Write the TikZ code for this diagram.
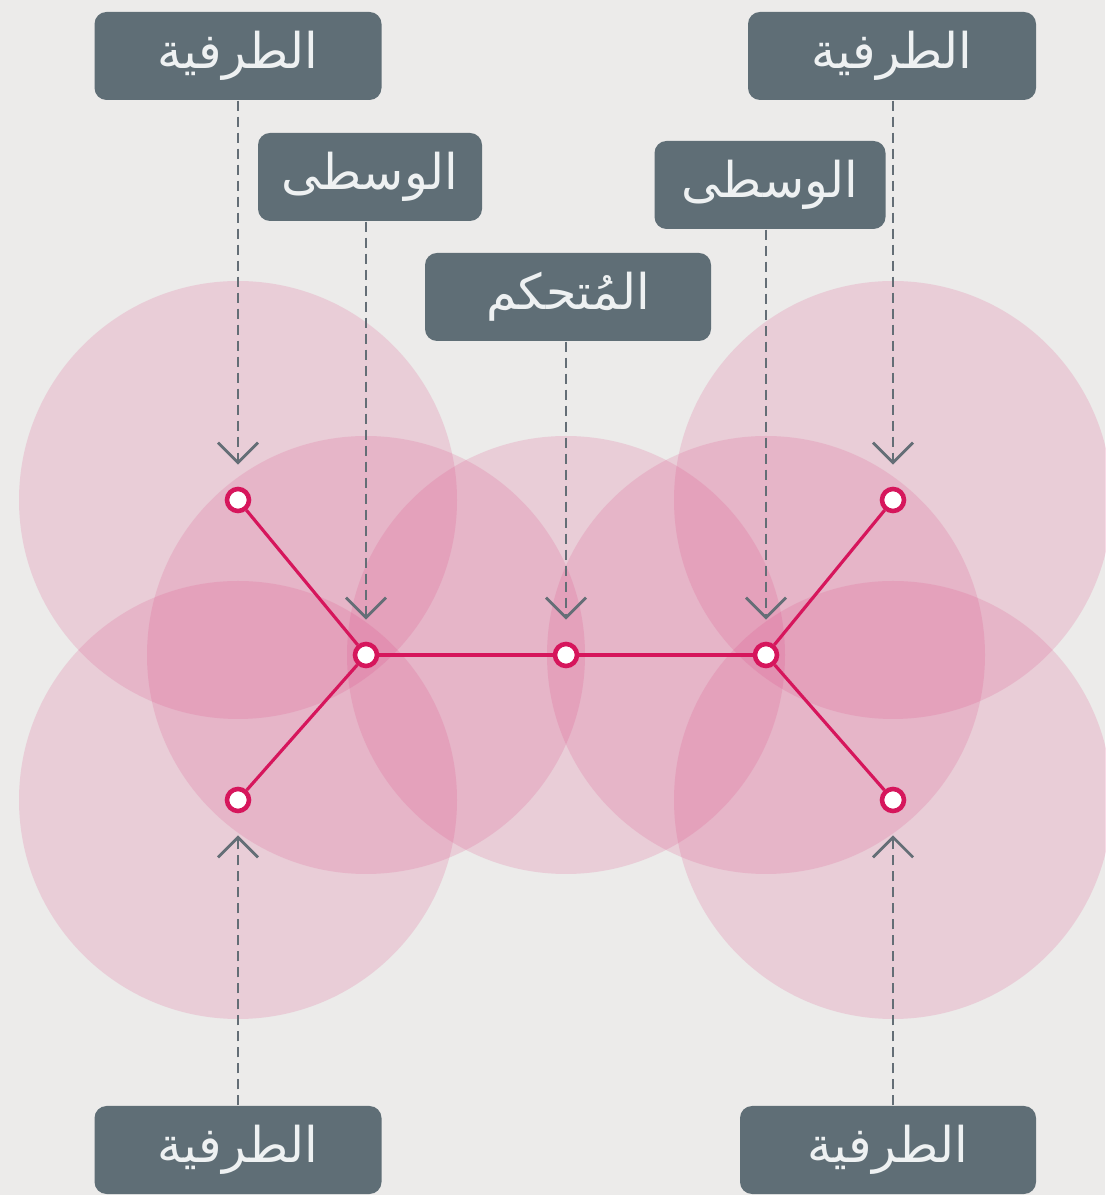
\documentclass[tikz,border=0pt]{standalone}
\usepackage{fontspec}
\usepackage{tikz}
\usetikzlibrary{
  arrows.meta,
  positioning,
  backgrounds
}
\TeXXeTstate=1
\newfontfamily\arabicfont[Script=Arabic]{DejaVu Sans}
\definecolor{PaperGray}{RGB}{236,235,234}
\definecolor{SlateBox}{RGB}{95,110,118}
\definecolor{SlateLine}{RGB}{100,110,118}
\definecolor{LabelWhite}{RGB}{238,241,242}
\definecolor{LinkRed}{RGB}{214,22,92}
\definecolor{ZonePink}{RGB}{220,72,132}
\tikzset{
  zone/.style={fill=ZonePink,fill opacity=0.18},
  station/.style={circle,draw=LinkRed,fill=white,line width=1.3pt,minimum size=2.2mm,inner sep=0pt},
  link/.style={draw=LinkRed,line width=0.9pt},
  tag/.style={fill=SlateBox,rounded corners=1.2mm,minimum height=8.8mm,text=LabelWhite,font=\arabicfont\fontsize{14}{16}\selectfont,inner sep=0pt},
  pointer/.style={-{Straight Barb[length=2mm,width=4mm]},draw=SlateLine,line width=0.8pt,dash pattern=on 1mm off 0.6mm,shorten >=2.2mm}
}
\newcommand{\ar}[1]{\beginR #1\endR}

\begin{document}
\begin{tikzpicture}
\useasboundingbox (0,0) rectangle (11.05,11.95);
% stations
\node[station] (endTL) at (2.38,6.95) {};
\node[station] (endTR) at (8.93,6.95) {};
\node[station] (endBL) at (2.38,3.95) {};
\node[station] (endBR) at (8.93,3.95) {};
\node[station] (midL) at (3.66,5.40) {};
\node[station] (ctrl) at (5.66,5.40) {};
\node[station] (midR) at (7.66,5.40) {};
% coverage zones
\begin{scope}[on background layer]
\fill[PaperGray] (0,0) rectangle (11.05,11.95);
\foreach \s in {endTL,endTR,endBL,endBR,midL,ctrl,midR}
  \fill[zone] (\s) circle (2.19);
\end{scope}
% links
\draw[link] (endTL) -- (midL);
\draw[link] (endBL) -- (midL);
\draw[link] (midL) -- (ctrl);
\draw[link] (ctrl) -- (midR);
\draw[link] (midR) -- (endTR);
\draw[link] (midR) -- (endBR);
% labels
\node[tag, minimum width=2.87cm] (lblTL) at (2.38,11.39) {\ar{الطرفية}};
\node[tag, minimum width=2.88cm] (lblTR) at (8.92,11.39) {\ar{الطرفية}};
\node[tag, minimum width=2.24cm] (lblML) at (3.70,10.18) {\ar{الوسطى}};
\node[tag, minimum width=2.31cm] (lblMR) at (7.70,10.10) {\ar{الوسطى}};
\node[tag, minimum width=2.86cm] (lblC) at (5.68,8.98) {\ar{المُتحكم}};
\node[tag, minimum width=2.87cm] (lblBL) at (2.38,0.45) {\ar{الطرفية}};
\node[tag, minimum width=2.96cm] (lblBR) at (8.88,0.45) {\ar{الطرفية}};
% pointers
\draw[pointer] (lblTL.south -| endTL) -- (endTL);
\draw[pointer] (lblTR.south -| endTR) -- (endTR);
\draw[pointer] (lblML.south -| midL) -- (midL);
\draw[pointer] (lblMR.south -| midR) -- (midR);
\draw[pointer] (lblC.south -| ctrl) -- (ctrl);
\draw[pointer] (lblBL.north -| endBL) -- (endBL);
\draw[pointer] (lblBR.north -| endBR) -- (endBR);
\end{tikzpicture}
\end{document}
